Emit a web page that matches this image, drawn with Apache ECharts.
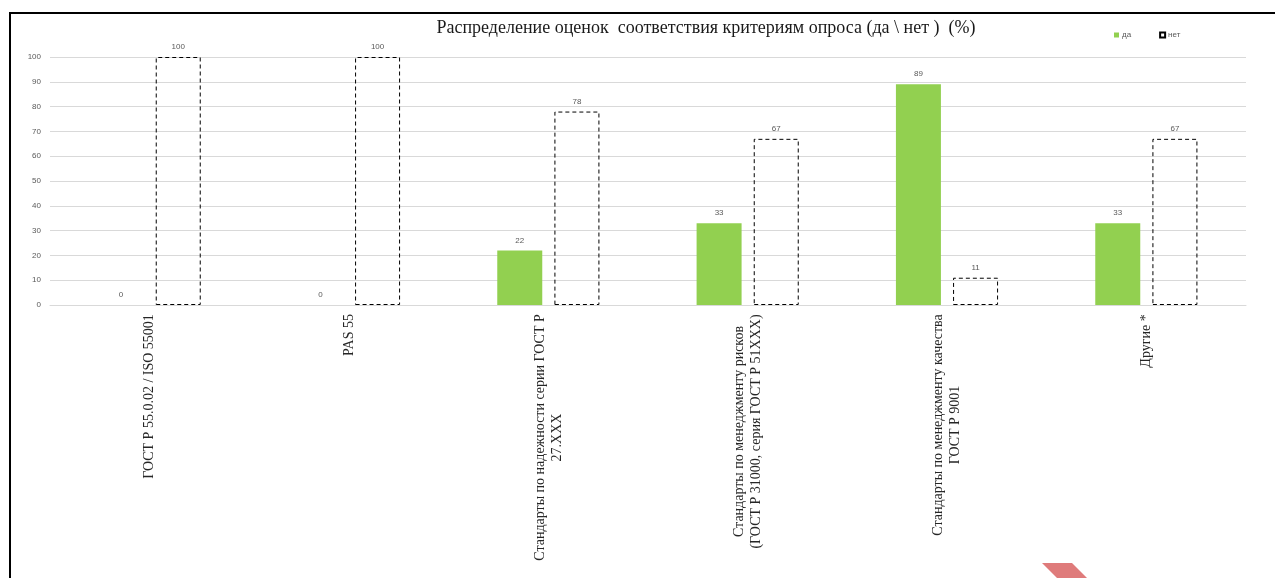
<!DOCTYPE html>
<html>
<head>
<meta charset="utf-8">
<script src="https://cdn.jsdelivr.net/npm/echarts@6/dist/echarts.min.js"></script>
<style>
  html, body { margin: 0; padding: 0; background: #fff; }
  #chart { width: 1275px; height: 578px; }
</style>
</head>
<body>
<div id="chart"></div>
<script>
// Survey answers (yes / no, %) per group of standards
const categories = [
  'ГОСТ Р 55.0.02 / ISO 55001',
  'PAS 55',
  'Стандарты по надежности серии ГОСТ Р\n27.XXX',
  'Стандарты по менеджменту рисков\n(ГОСТ Р 31000, серия ГОСТ Р 51XXX)',
  'Стандарты по менеджменту качества\nГОСТ Р 9001',
  'Другие *'
];
const yesValues = [0, 0, 22, 33, 89, 33];
const noValues = [100, 100, 78, 67, 11, 67];
const yTicks = { min: 0, max: 100, step: 10 };
const seriesNames = ['да', 'нет'];
const titleText = 'Распределение оценок  соответствия критериям опроса (да \\ нет )  (%)';

const labelFont = 'Liberation Serif';
const labelSize = 14;

// Width of the longest line of each category label, so the lines can be centred
const ctx = document.createElement('canvas').getContext('2d');
ctx.font = labelSize + 'px "' + labelFont + '"';
const rich = {};
categories.forEach(function (c, i) {
  const w = Math.max.apply(null, c.split('\n').map(function (l) { return ctx.measureText(l).width; }));
  rich['c' + i] = {
    width: Math.ceil(w),
    align: 'center',
    fontFamily: labelFont,
    fontSize: labelSize,
    lineHeight: 17,
    color: '#262626'
  };
});

const chart = echarts.init(document.getElementById('chart'), null, { renderer: 'canvas' });

chart.setOption({
  backgroundColor: '#ffffff',
  animation: false,
  title: {
    text: titleText,
    left: 701,
    textAlign: 'center',
    top: 14,
    textStyle: { fontFamily: labelFont, fontSize: 18, fontWeight: 'normal', color: '#1a1a1a' }
  },
  legend: {
    data: seriesNames,
    icon: 'rect',
    left: 1109,
    top: 26,
    itemWidth: 5,
    itemHeight: 5,
    itemGap: 28,
    textStyle: { fontFamily: 'Liberation Sans', fontSize: 8, color: '#595959', padding: [0, 0, 0, -2] }
  },
  grid: { left: 50, right: 29, top: 57, bottom: 273, containLabel: false },
  xAxis: {
    type: 'category',
    data: categories,
    axisLine: { show: true, lineStyle: { color: '#d9d9d9', width: 1 } },
    axisTick: { show: false },
    axisLabel: {
      interval: 0,
      rotate: 90,
      margin: 9,
      formatter: function (value, index) {
        return value.split('\n').map(function (l) { return '{c' + index + '|' + l + '}'; }).join('\n');
      },
      rich: rich
    }
  },
  yAxis: {
    type: 'value',
    min: yTicks.min,
    max: yTicks.max,
    interval: yTicks.step,
    axisLine: { show: false },
    axisTick: { show: false },
    axisLabel: { fontFamily: 'Liberation Sans', fontSize: 8, color: '#595959', margin: 9 },
    splitLine: { lineStyle: { color: '#d9d9d9', width: 1 } }
  },
  series: [
    {
      name: seriesNames[0],
      type: 'bar',
      data: yesValues,
      barWidth: 45,
      barGap: '27%',
      itemStyle: { color: '#92d050' },
      label: {
        show: true,
        position: 'top',
        distance: 6,
        fontFamily: 'Liberation Sans',
        fontSize: 8,
        color: '#595959'
      }
    },
    {
      name: seriesNames[1],
      type: 'bar',
      data: noValues,
      barWidth: 45,
      itemStyle: {
        color: 'rgba(255,255,255,0)',
        borderColor: '#000000',
        borderWidth: 1,
        borderType: [4, 3]
      },
      label: {
        show: true,
        position: 'top',
        distance: 6,
        fontFamily: 'Liberation Sans',
        fontSize: 8,
        color: '#595959'
      }
    }
  ],
  graphic: [
    // frame lines along the top and left edges
    { type: 'rect', shape: { x: 9, y: 12, width: 1266, height: 2 }, style: { fill: '#000' }, silent: true },
    { type: 'rect', shape: { x: 9, y: 12, width: 2, height: 566 }, style: { fill: '#000' }, silent: true },
    // red corner mark at the bottom
    {
      type: 'polygon',
      shape: { points: [[1042, 563], [1072, 563], [1087, 578], [1057, 578]] },
      style: { fill: '#df7b7b' },
      silent: true
    }
  ]
});
</script>
</body>
</html>
